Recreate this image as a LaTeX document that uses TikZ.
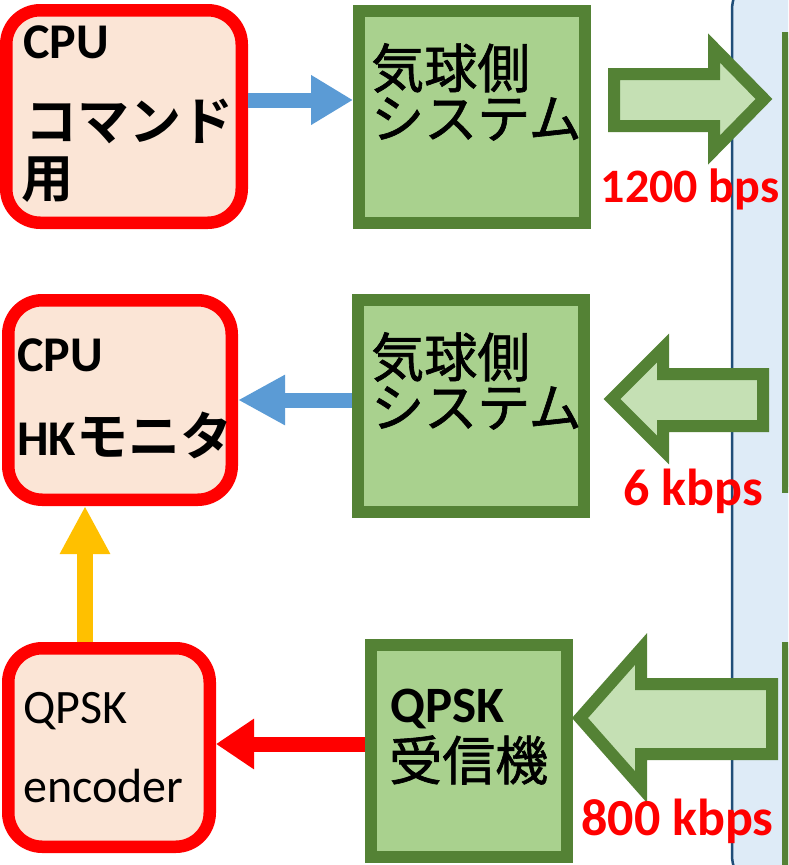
\documentclass[tikz,border=0pt]{standalone}
\usepackage{fontspec}
\setmainfont{Carlito}
\newfontfamily\jp{Noto Sans CJK JP}[BoldFont={* Bold}]
\newfontfamily\jpm{Noto Sans CJK JP}[FakeBold=1.2]
\usetikzlibrary{arrows.meta}
\definecolor{cred}{HTML}{FF0000}
\definecolor{cpeach}{HTML}{FBE5D6}
\definecolor{cgreen}{HTML}{548235}
\definecolor{cgfill}{HTML}{A9D18E}
\definecolor{cgarrow}{HTML}{C5E0B4}
\definecolor{cblue}{HTML}{5B9BD5}
\definecolor{cyellow}{HTML}{FFC000}
\definecolor{cpanel}{HTML}{DEEBF7}
\definecolor{cpanelb}{HTML}{1F4E79}
\begin{document}
\begin{tikzpicture}[x=1pt,y=-1pt,
  redbox/.style={draw=cred, fill=cpeach, line width=12.5pt, rounded corners=34pt, inner sep=0pt},
  greenbox/.style={draw=cgreen, fill=cgfill, line width=12pt, inner sep=0pt},
  bigarrow/.style={draw=cgreen, fill=cgarrow, line width=12pt, line join=miter},
  latb/.style={inner sep=0pt, anchor=base west, font=\fontsize{50}{50}\selectfont\bfseries},
  latr/.style={inner sep=0pt, anchor=base west, font=\fontsize{48}{48}\selectfont},
  jpb/.style={inner sep=0pt, anchor=west, font=\fontsize{52}{52}\selectfont\jp\bfseries},
  jpr/.style={inner sep=0pt, anchor=west, font=\fontsize{53}{53}\selectfont\jpm},
  rate/.style={inner sep=0pt, anchor=base, text=cred, font=\fontsize{52}{52}\selectfont\bfseries},
  conn/.style={line width=15pt}
]
\useasboundingbox (0,0) rectangle (788,865);
\clip (0,0) rectangle (788,865);

% right panel
\draw[draw=cpanelb, fill=cpanel, line width=2.5pt, rounded corners=40pt] (732,-30) rectangle (900,895);
\draw[greenbox] (788,38) rectangle (900,487);
\draw[greenbox] (788,648) rectangle (900,950);

% block arrows
\draw[bigarrow] (614,74) -- (714,74) -- (714,48) -- (764,99) -- (714,150) -- (714,126) -- (614,126) -- cycle;
\draw[bigarrow] (612,399) -- (663,348) -- (663,374) -- (763,374) -- (763,426) -- (663,426) -- (663,450) -- cycle;
\draw[bigarrow] (580,718) -- (641,649) -- (641,684) -- (772,684) -- (772,754) -- (641,754) -- (641,787) -- cycle;

% boxes
\node[redbox, minimum width=235.5pt, minimum height=212.5pt] (cpu1) at (124,116.5) {};
\node[redbox, minimum width=223.5pt, minimum height=199.5pt] (cpu2) at (120,400) {};
\node[redbox, minimum width=201.5pt, minimum height=198.5pt] (enc) at (109,747.5) {};
\node[greenbox, minimum width=226pt, minimum height=212pt] (gs1) at (472,117) {};
\node[greenbox, minimum width=226pt, minimum height=212pt] (gs2) at (471,406) {};
\node[greenbox, minimum width=196pt, minimum height=212pt] (gs3) at (469,751) {};

% texts
\node[latb] (t1a) at (23,58) {CPU};
\node[jpb] (t1b) at (25,121) {コマンド};
\node[jpb] (t1c) at (21.5,180) {用};
\node[latb] (t2a) at (17,371) {CPU};
\node[inner sep=0pt, anchor=base west, font=\fontsize{50}{50}\selectfont\bfseries] (t2b) at (17,455) {HK{\fontsize{52}{52}\selectfont\jp\bfseries モニタ}};
\node[latr] (t3a) at (23,723) {QPSK};
\node[latr] (t3b) at (23,802) {encoder};
\node[jpr] (g1a) at (371,68) {気球側};
\node[jpr] (g1b) at (371,119) {システム};
\node[jpr] (g2a) at (371,357) {気球側};
\node[jpr] (g2b) at (371,408) {システム};
\node[latb, font=\fontsize{51}{51}\selectfont\bfseries] (g3a) at (390,722) {QPSK};
\node[jpr] (g3b) at (389,760) {受信機};

% connectors
\coordinate (yb1) at (0,100);
\coordinate (yb2) at (0,400);
\coordinate (yr) at (0,744);
\coordinate (xy) at (85,0);
\draw[conn, cblue, -{Triangle[length=42pt,width=47pt]}] (cpu1.east |- yb1) -- (gs1.west |- yb1);
\draw[conn, cblue, -{Triangle[length=47pt,width=47pt]}] (gs2.west |- yb2) -- (cpu2.east |- yb2);
\draw[conn, cred, -{Triangle[length=38pt,width=48pt]}] (gs3.west |- yr) -- (enc.east |- yr);
\draw[line width=16pt, cyellow, -{Triangle[length=48pt,width=47pt]}] (enc.north -| xy) -- (cpu2.south -| xy);

% rate labels
\node[rate, font=\fontsize{48}{48}\selectfont\bfseries] (r1) at (690,202) {1200 bps};
\node[rate] (r2) at (693,505) {6 kbps};
\node[rate] (r3) at (677.5,835) {800 kbps};
\end{tikzpicture}
\end{document}
